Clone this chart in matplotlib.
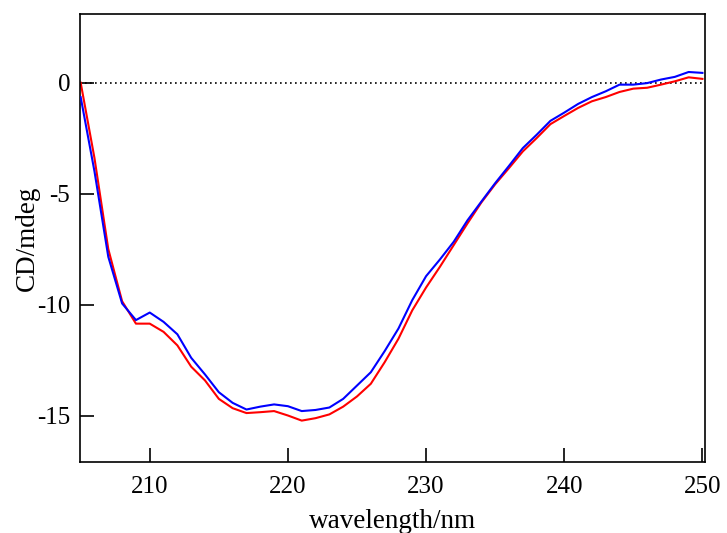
import numpy as np
import matplotlib
matplotlib.use('Agg')
from matplotlib import pyplot as plt

plt.rcParams['font.family'] = ['Liberation Serif', 'DejaVu Serif']
plt.rcParams['axes.unicode_minus'] = False

wavelength = np.arange(205, 251)
cd_blue = [-0.65, -4.0, -7.85, -9.95, -10.7, -10.36, -10.78, -11.34, -12.4, -13.15,
           -13.95, -14.43, -14.73, -14.6, -14.5, -14.58, -14.8, -14.75, -14.64, -14.25,
           -13.65, -13.05, -12.1, -11.08, -9.8, -8.72, -7.97, -7.17, -6.2, -5.36,
           -4.53, -3.75, -2.95, -2.35, -1.72, -1.35, -0.96, -0.65, -0.39, -0.09,
           -0.09, -0.02, 0.14, 0.26, 0.48, 0.44]
cd_red = [0.0, -3.4, -7.5, -9.85, -10.86, -10.86, -11.23, -11.84, -12.8, -13.42,
          -14.25, -14.67, -14.89, -14.85, -14.8, -15.0, -15.23, -15.12, -14.95, -14.6,
          -14.14, -13.57, -12.6, -11.54, -10.26, -9.23, -8.3, -7.32, -6.34, -5.4,
          -4.58, -3.85, -3.1, -2.5, -1.87, -1.5, -1.14, -0.84, -0.65, -0.42,
          -0.27, -0.23, -0.09, 0.06, 0.24, 0.17]

fig = plt.figure(figsize=(7.27, 5.33), dpi=100)
ax = fig.add_axes([0.110, 0.133, 0.860, 0.841])

ax.axhline(0, color='black', lw=1.2, ls=(0, (1, 2)), zorder=1)
ax.plot(wavelength, cd_blue, color='#0000ff', lw=1.5, zorder=3)
ax.plot(wavelength, cd_red, color='#ff0000', lw=1.5, zorder=2)

ax.set_xlim(204.95, 250.2)
ax.set_ylim(-17.1, 3.1)
ax.set_xticks([210, 220, 230, 240, 250])
ax.set_yticks([0, -5, -10, -15])
ax.tick_params(direction='in', length=10, width=1.2, labelsize=18)
ax.tick_params(axis='x', pad=10)
ax.tick_params(axis='y', pad=7)
for s in ax.spines.values():
    s.set_linewidth(1.2)

ax.set_xlabel('wavelength/nm', fontsize=19.5, labelpad=8)
ax.set_ylabel('CD/mdeg', fontsize=19.5, labelpad=-2)

fig.savefig('out.png', dpi=100)
